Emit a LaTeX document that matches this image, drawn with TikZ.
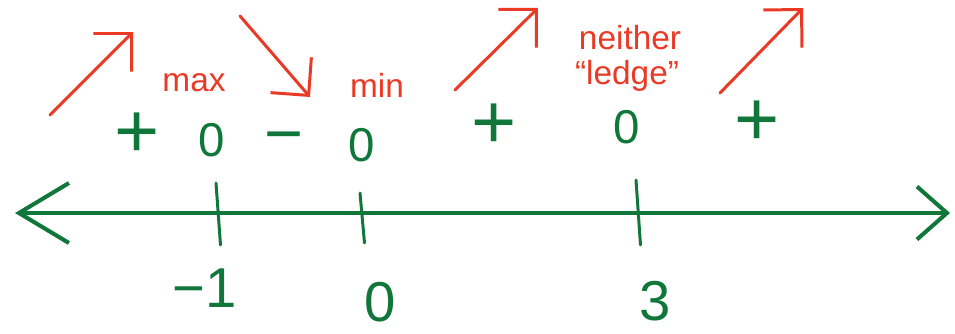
\documentclass[tikz,border=0pt]{standalone}
\usepackage{fontspec}
\setmainfont{Liberation Sans}
\usetikzlibrary{arrows.meta}
\definecolor{linec}{RGB}{16,118,58}
\definecolor{trendc}{RGB}{234,58,38}
\tikzset{
  axis/.style={line width=2.3pt,linec,line cap=round,
    {Straight Barb[length=10mm,width=12mm]}-{Straight Barb[length=6mm,width=10.6mm]}},
  tick/.style={line width=1.7pt,linec,line cap=round},
  num/.style={linec,inner sep=0pt,font=\fontsize{32}{36}\selectfont},
  sgn/.style={linec,inner sep=0pt},
  plussgn/.style={font=\fontsize{44}{48}\selectfont},
  minussgn/.style={font=\fontsize{38}{42}\selectfont},
  zerosgn/.style={font=\fontsize{27}{30}\selectfont},
  trend/.style={line width=1.7pt,trendc,line cap=round,line join=round,
    -{Straight Barb[length=5.4mm,width=10.8mm]}},
  note/.style={trendc,inner sep=0pt,font=\fontsize{19}{21}\selectfont},
}
\begin{document}
\begin{tikzpicture}
  \useasboundingbox (0,0) rectangle (19.1,6.66);
  % number line
  \coordinate (left) at (0.3,2.4);
  \coordinate (right) at (19.0,2.4);
  \draw[axis] (left) -- (right);
  \foreach \n/\x/\t/\b in {m1/4.36/3.0/1.76,z/7.24/2.8/1.8,th/12.76/3.06/1.76}{
     \coordinate (\n top) at (\x-0.04,\t);
     \coordinate (\n bot) at (\x+0.05,\b);
     \draw[tick] (\n top) -- (\n bot);}
  \node[num] (lm1) at (4.1,0.9) {−1};
  \node[num] (lz) at (7.6,0.62) {0};
  \node[num] (lth) at (13.1,0.64) {3};
  % signs
  \foreach \n/\x/\y/\s/\k in {s1/2.74/3.96/+/plussgn,s2/4.24/3.86/0/zerosgn,s3/5.68/3.78/−/minussgn,
                              s4/7.24/3.76/0/zerosgn,s5/9.88/4.14/+/plussgn,s6/12.54/4.12/0/zerosgn,
                              s7/15.14/4.2/+/plussgn}{
     \node[sgn,\k] (\n) at (\x,\y) {\s};}
  % increasing / decreasing
  \foreach \n/\xa/\ya/\xb/\yb in {up1/1.0/4.36/2.66/6.02,dn/4.8/6.34/6.2/4.72,
                                  up2/9.1/4.86/10.76/6.5,up3/14.4/4.8/16.06/6.5}{
     \coordinate (\n a) at (\xa,\ya);
     \coordinate (\n b) at (\xb,\yb);
     \draw[trend] (\n a) -- (\n b);}
  \node[note] (max) at (3.88,5.0) {max};
  \node[note] (min) at (7.54,4.96) {min};
  \node[note] (neither) at (12.6,5.9) {neither};
  \node[note] (ledge) at (12.54,5.14) {“ledge”};
\end{tikzpicture}
\end{document}
